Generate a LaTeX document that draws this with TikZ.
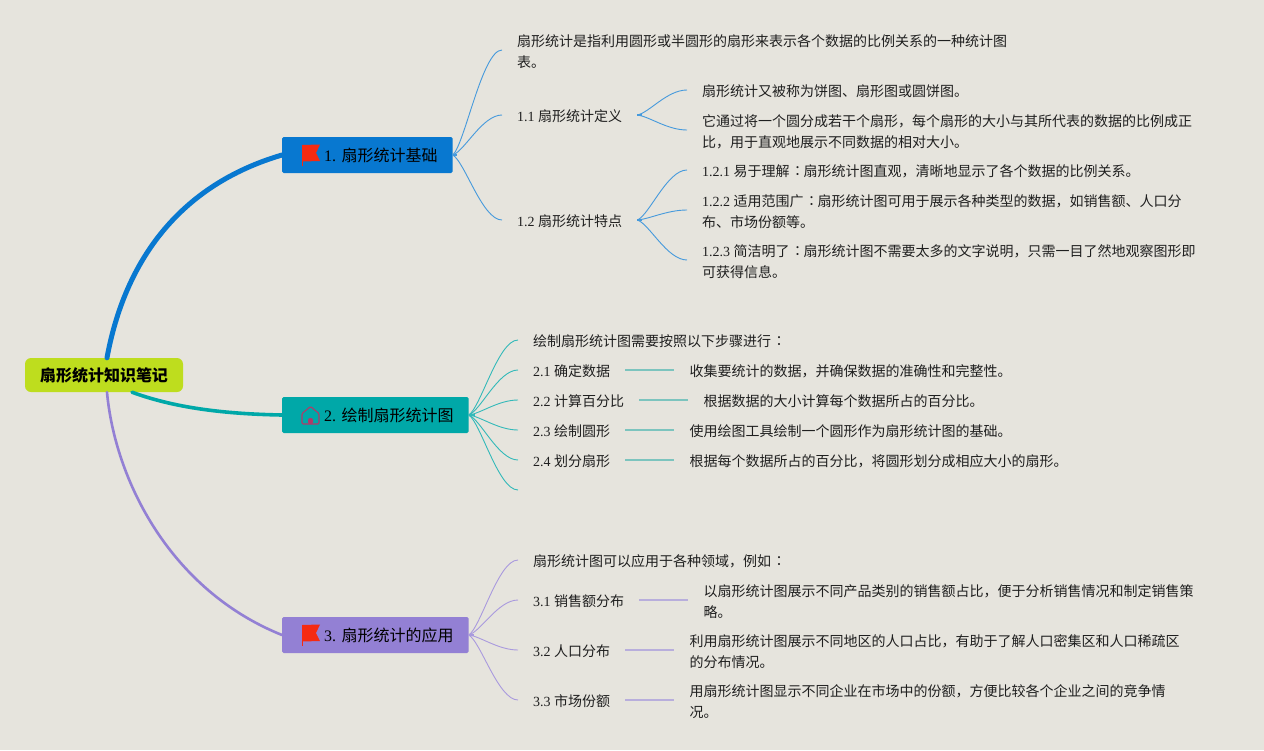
\documentclass[tikz,border=0pt]{standalone}
\usepackage{fontspec}
\setmainfont{Noto Sans CJK SC}
\newfontfamily\numfont{Liberation Serif}
\newcommand{\nm}[1]{{\numfont #1}}
\newcommand{\cln}{\kern4.5pt\raisebox{1pt}{：}\kern-4.5pt}
\usetikzlibrary{positioning,calc}
\definecolor{bgc}{HTML}{E6E4DD}
\definecolor{rootc}{HTML}{BEDD1E}
\definecolor{blu}{HTML}{0878D0}
\definecolor{tea}{HTML}{00A8A8}
\definecolor{pur}{HTML}{9380D4}
\definecolor{flagc}{HTML}{F52A12}
\definecolor{homec}{HTML}{B23A68}
\definecolor{teabar}{HTML}{7CC4BE}
\definecolor{purbar}{HTML}{B8AEDC}
\tikzset{dpadroot/.style={rounded corners=6, fill=rootc, minimum width=158pt, minimum height=34pt, inner sep=0pt, font=\fontsize{16}{18}\selectfont\bfseries}}
\tikzset{dpadbr/.style={rounded corners=1.5, anchor=west, minimum height=36pt, inner ysep=0pt, inner xsep=15pt, font=\fontsize{16}{18}\selectfont}}
\tikzset{leaf/.style={anchor=west, inner xsep=15pt, inner ysep=1pt, align=left, text=black!88, font=\fontsize{14}{20.5}\selectfont, execute at begin node=\rule{0pt}{14.5pt}}}
\tikzset{leaf2/.style={leaf, execute at begin node=\rule{0pt}{36pt}}}
\tikzset{main/.style={draw, line cap=round}}
\tikzset{thin1/.style={draw, line width=0.9pt}}
\tikzset{stub/.style={draw, line width=1.8pt}}
\tikzset{bar/.style={draw, line width=2pt}}
\tikzset{lnk/.style={to path={.. controls ($($(\tikztostart)!.1!(\tikztotarget)$)+(7,0)$) and ($(\tikztostart |- \tikztotarget)!.6!(\tikztotarget)$) .. (\tikztotarget)}}}
\tikzset{flagicon/.pic={
	\fill[flagc] (0,-1) -- (18,-1.5) -- (14,7) -- (18,15) -- (0,15.5) -- cycle;
	\draw[flagc, line width=0.8pt] (0,-1) -- (0,20);
}}
\tikzset{homeicon/.pic={
	\draw[homec, line width=1.1pt, rounded corners=1.2] (0,7) -- (8.5,0) -- (17,7) -- (17,17.5) -- (0,17.5) -- cycle;
	\fill[homec, rounded corners=2] (6,17.5) -- (6,11.5) -- (11,11.5) -- (11,17.5) -- cycle;
}}

\begin{document}
\begin{tikzpicture}[x=1pt, y=-1pt]
	\fill[bgc] (0,0) rectangle (1264,750);
	\useasboundingbox (0,0) rectangle (1264,750);
	%
	\node[dpadroot] (root) at (104,375) {扇形统计知识笔记};
	\node[dpadbr, fill=blu] (b1) at (282,155) {\hspace*{27pt}\nm{1. }扇形统计基础};
	\node[dpadbr, fill=tea] (b2) at (282,415) {\hspace*{27pt}\nm{2. }绘制扇形统计图};
	\node[dpadbr, fill=pur] (b3) at (282,635) {\hspace*{27pt}\nm{3. }扇形统计的应用};
	\pic at (302,146) {flagicon};
	\pic at (302,406.5) {homeicon};
	\pic at (302,626) {flagicon};
	%
	\draw[main, blu, line width=5pt] ([xshift=3pt]root.north) .. controls (125,260) and (180,185) .. (b1.west);
	\draw[main, tea, line width=3.6pt] ([xshift=28pt]root.south) .. controls (175,408) and (225,414) .. (b2.west);
	\draw[main, pur, line width=2.6pt] ([xshift=3pt]root.south) .. controls (115,480) and (170,590) .. (b3.west);
	%
	% first branch
	\node[leaf2] (n1) at (502,50) {扇形统计是指利用圆形或半圆形的扇形来表示各个数据的比例关系的一种统计图\\表。};
	\node[leaf] (s11) at (502,115) {\nm{1.1 }扇形统计定义};
	\node[leaf] (s12) at (502,220) {\nm{1.2 }扇形统计特点};
	\node[leaf] (t111) at (687,90) {扇形统计又被称为饼图、扇形图或圆饼图。};
	\node[leaf2] (t112) at (687,130) {它通过将一个圆分成若干个扇形，每个扇形的大小与其所代表的数据的比例成正\\比，用于直观地展示不同数据的相对大小。};
	\node[leaf] (t121) at (687,170) {\nm{1.2.1 }易于理解\cln 扇形统计图直观，清晰地显示了各个数据的比例关系。};
	\node[leaf2] (t122) at (687,210) {\nm{1.2.2 }适用范围广\cln 扇形统计图可用于展示各种类型的数据，如销售额、人口分\\布、市场份额等。};
	\node[leaf2] (t123) at (687,260) {\nm{1.2.3 }简洁明了\cln 扇形统计图不需要太多的文字说明，只需一目了然地观察图形即\\可获得信息。};
	%
	\foreach \tgt in {n1,s11,s12}
		\draw[thin1, blu!75] (b1.east) to[lnk] (\tgt.west);
	\foreach \tgt in {t111,t112}
		\draw[thin1, blu!75] (s11.east) to[lnk] (\tgt.west);
	\foreach \tgt in {t121,t122,t123}
		\draw[thin1, blu!75] (s12.east) to[lnk] (\tgt.west);
	\draw[stub, blu!75] (b1.east) -- +(4,0);
	\draw[stub, blu!75] (s11.east) -- +(5,0);
	\draw[stub, blu!75] (s12.east) -- +(5,0);
	%
	% second branch
	\node[leaf] (n2) at (518,340) {绘制扇形统计图需要按照以下步骤进行\cln};
	\node[leaf] (s21) at (518,370) {\nm{2.1 }确定数据};
	\node[leaf] (s22) at (518,400) {\nm{2.2 }计算百分比};
	\node[leaf] (s23) at (518,430) {\nm{2.3 }绘制圆形};
	\node[leaf] (s24) at (518,460) {\nm{2.4 }划分扇形};
	\coordinate (e25) at (518,490);
	\node[leaf, right=49pt of s21] (t21) {收集要统计的数据，并确保数据的准确性和完整性。};
	\node[leaf, right=49pt of s22] (t22) {根据数据的大小计算每个数据所占的百分比。};
	\node[leaf, right=49pt of s23] (t23) {使用绘图工具绘制一个圆形作为扇形统计图的基础。};
	\node[leaf, right=49pt of s24] (t24) {根据每个数据所占的百分比，将圆形划分成相应大小的扇形。};
	%
	\foreach \tgt in {n2.west,s21.west,s22.west,s23.west,s24.west,e25}
		\draw[thin1, tea!80] (b2.east) to[lnk] (\tgt);
	\draw[stub, tea!80] (b2.east) -- +(6,0);
	\foreach \i in {1,...,4}
		\draw[bar, teabar] (s2\i) -- (t2\i);
	%
	% third branch
	\node[leaf] (n3) at (518,560) {扇形统计图可以应用于各种领域，例如\cln};
	\node[leaf] (s31) at (518,600) {\nm{3.1 }销售额分布};
	\node[leaf] (s32) at (518,650) {\nm{3.2 }人口分布};
	\node[leaf] (s33) at (518,700) {\nm{3.3 }市场份额};
	\node[leaf2, right=49pt of s31] (t31) {以扇形统计图展示不同产品类别的销售额占比，便于分析销售情况和制定销售策\\略。};
	\node[leaf2, right=49pt of s32] (t32) {利用扇形统计图展示不同地区的人口占比，有助于了解人口密集区和人口稀疏区\\的分布情况。};
	\node[leaf2, right=49pt of s33] (t33) {用扇形统计图显示不同企业在市场中的份额，方便比较各个企业之间的竞争情\\况。};
	%
	\foreach \tgt in {n3,s31,s32,s33}
		\draw[thin1, pur!80] (b3.east) to[lnk] (\tgt.west);
	\draw[stub, pur!80] (b3.east) -- +(5,0);
	\foreach \i in {1,...,3}
		\draw[bar, purbar] (s3\i) -- (t3\i);
\end{tikzpicture}
\end{document}
